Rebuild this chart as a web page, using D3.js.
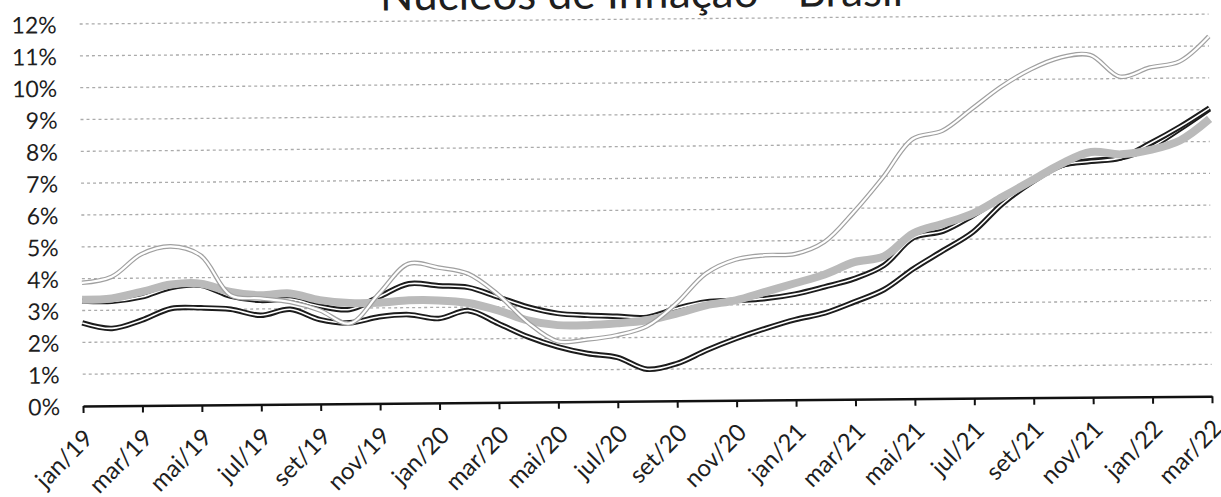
<!DOCTYPE html>
<html><head><meta charset="utf-8">
<script src="https://cdn.jsdelivr.net/npm/d3@7"></script>
<style>
html,body{margin:0;padding:0;background:#fff;}
svg{display:block;}
text{font-family:Lato,"Noto Sans",sans-serif;fill:#1e1e1e;}
</style></head>
<body>
<svg id="chart" width="1221" height="497"></svg>
<script>
const title = "Núcleos de Inflação - Brasil";
const months = ["jan/19","fev/19","mar/19","abr/19","mai/19","jun/19","jul/19","ago/19","set/19","out/19","nov/19","dez/19",
  "jan/20","fev/20","mar/20","abr/20","mai/20","jun/20","jul/20","ago/20","set/20","out/20","nov/20","dez/20",
  "jan/21","fev/21","mar/21","abr/21","mai/21","jun/21","jul/21","ago/21","set/21","out/21","nov/21","dez/21",
  "jan/22","fev/22","mar/22"];
const yTicks = [0,1,2,3,4,5,6,7,8,9,10,11,12];
// light grey double line
const seriesLight = [3.87,4.05,4.75,4.99,4.70,3.44,3.33,3.21,2.94,2.52,3.45,4.38,4.25,4.05,3.39,2.50,1.90,1.95,2.08,2.35,3.06,3.99,4.42,4.55,4.58,4.95,5.88,6.97,8.16,8.41,9.09,9.78,10.32,10.68,10.75,10.06,10.34,10.52,11.30];
// thick grey line
const seriesGrey = [3.34,3.37,3.57,3.79,3.81,3.54,3.43,3.48,3.26,3.16,3.16,3.23,3.22,3.13,2.89,2.57,2.41,2.40,2.45,2.54,2.74,2.99,3.14,3.40,3.66,3.93,4.31,4.48,5.20,5.49,5.80,6.31,6.82,7.34,7.70,7.62,7.75,8.04,8.71];
// dark double line (upper start)
const seriesDark1 = [3.30,3.28,3.41,3.70,3.76,3.41,3.27,3.30,3.07,2.96,3.35,3.75,3.68,3.62,3.31,2.99,2.78,2.71,2.67,2.63,2.90,3.10,3.14,3.19,3.32,3.54,3.79,4.20,5.06,5.26,5.74,6.31,6.80,7.29,7.41,7.51,7.96,8.47,9.05];
// dark double line (lower start)
const seriesDark2 = [2.61,2.43,2.68,3.04,3.05,3.00,2.80,2.98,2.65,2.54,2.72,2.78,2.65,2.89,2.48,2.05,1.73,1.51,1.38,1.00,1.17,1.58,1.94,2.25,2.52,2.72,3.06,3.44,4.09,4.65,5.22,6.10,6.77,7.29,7.43,7.51,7.83,8.40,9.02];

const svg = d3.select("#chart");
const x0 = 83, x1 = 1212, yBase = 406, yTop = 24;
const g = svg.append("g").attr("transform", `rotate(-0.5,${x0},${yBase})`);

const x = d3.scaleLinear().domain([0, months.length - 1]).range([x0, x1]);
const y = d3.scaleLinear().domain([0, 12]).range([yBase, yTop]);

// title (cut off at the top, as in the scanned original)
g.append("text").attr("x", 645).attr("y", 13).attr("text-anchor", "middle")
  .style("font-size", "44px").text(title);

// gridlines
g.append("g").selectAll("line").data(yTicks.filter(d => d > 0)).join("line")
  .attr("x1", x0).attr("x2", x1).attr("y1", d => y(d)).attr("y2", d => y(d))
  .attr("stroke", "#ababab").attr("stroke-width", 1.3).attr("stroke-dasharray", "3,3");

// y labels
g.append("g").selectAll("text").data(yTicks).join("text")
  .attr("x", 60).attr("y", d => y(d)).attr("text-anchor", "end")
  .attr("dominant-baseline", "central").style("font-size", "23px")
  .text(d => d + "%");

// x axis
const xAxis = d3.axisBottom(x).tickValues(d3.range(0, months.length, 2))
  .tickFormat(i => months[i]).tickSize(7).tickSizeOuter(0);
const ax = g.append("g").attr("transform", `translate(0,${yBase})`).call(xAxis);
ax.select(".domain").attr("stroke", "#111").attr("stroke-width", 2.5);
ax.selectAll(".tick line").attr("stroke", "#111").attr("stroke-width", 2);
ax.selectAll(".tick text")
  .attr("fill", "#1e1e1e").style("font-size", "24px").style("font-family", "Lato")
  .attr("text-anchor", "end").attr("dominant-baseline", "central")
  .attr("dy", null).attr("y", null)
  .attr("transform", "translate(4,27) rotate(-45)");

const line = d3.line().x((d, i) => x(i)).y(d => y(d)).curve(d3.curveCatmullRom.alpha(0.5));

function doubleLine(data, outer, ow, iw) {
  g.append("path").datum(data).attr("d", line).attr("fill", "none")
    .attr("stroke", outer).attr("stroke-width", ow).attr("stroke-linejoin", "round");
  g.append("path").datum(data).attr("d", line).attr("fill", "none")
    .attr("stroke", "#fff").attr("stroke-width", iw).attr("stroke-linejoin", "round");
}
doubleLine(seriesDark2, "#1c1c1c", 5.5, 1.6);
doubleLine(seriesDark1, "#1c1c1c", 5.5, 1.6);
g.append("path").datum(seriesGrey).attr("d", line).attr("fill", "none")
  .attr("stroke", "#bababa").attr("stroke-width", 8).attr("stroke-linejoin", "round");
doubleLine(seriesLight, "#a0a0a0", 4.6, 2.2);
</script>
</body></html>
